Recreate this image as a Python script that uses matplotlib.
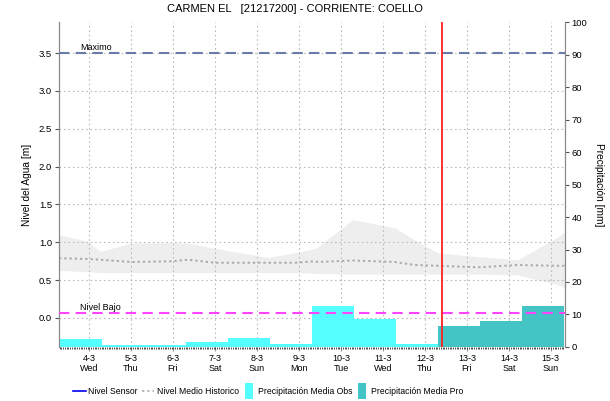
import numpy as np
import matplotlib
matplotlib.use("Agg")
import matplotlib.pyplot as plt
from matplotlib.lines import Line2D
from matplotlib.path import Path

plt.rcParams['font.family'] = ['Liberation Sans', 'DejaVu Sans']

# days: 0 = 4-3 ... 11 = 15-3
day_labels = ["4-3", "5-3", "6-3", "7-3", "8-3", "9-3", "10-3", "11-3", "12-3", "13-3", "14-3", "15-3"]
weekdays = ["Wed", "Thu", "Fri", "Sat", "Sun", "Mon", "Tue", "Wed", "Thu", "Fri", "Sat", "Sun"]

# precipitation (mm) per day, observed then forecast
precip_obs = [2.5, 0.7, 0.5, 1.5, 2.9, 1.0, 12.7, 8.7, 0.9]
precip_pro = [6.6, 8.1, 12.7]

# historic band (m)
hist_x = [-0.714, -0.02, 0.26, 1.02, 2.0, 2.36, 3.0, 3.95, 4.26, 4.90, 5.38, 5.45,
          6.29, 7.29, 7.76, 8.31, 9.26, 10.21, 11.17, 11.33]
hist_upper = [1.10, 1.01, 0.88, 0.99, 0.995, 0.99, 0.92, 0.83, 0.80, 0.86, 0.92, 0.94,
              1.30, 1.19, 1.03, 0.86, 0.81, 0.77, 1.07, 1.14]
hist_lower = [0.63, 0.61, 0.60, 0.60, 0.60, 0.60, 0.60, 0.60, 0.60, 0.60, 0.59, 0.59,
              0.58, 0.58, 0.58, 0.58, 0.58, 0.57, 0.44, 0.40]
hist_mean = [0.79, 0.78, 0.77, 0.74, 0.75, 0.77, 0.73, 0.73, 0.73, 0.73, 0.75, 0.74,
             0.76, 0.74, 0.70, 0.69, 0.67, 0.70, 0.69, 0.69]

nivel_max = 3.5
nivel_bajo = 0.06
now_x = 8.42

fig = plt.figure(figsize=(6.1, 4.01), dpi=100)
ax = fig.add_axes([0.0967, 0.1347, 0.829, 0.8103])
ax2 = ax.twinx()

ax.fill_between(hist_x, hist_lower, hist_upper, color="#EEEEEE", lw=0, zorder=0)
ax.plot(hist_x, hist_mean, color="#AAAAAA", lw=1.4, linestyle=(0, (1.2, 1.5)), zorder=1)

ax.set_xlim(-0.714, 11.33)
ax.set_ylim(-0.383, 3.91)
ax.set_yticks(np.arange(0, 3.6, 0.5))
ax.set_yticklabels([f"{v:.1f}" for v in np.arange(0, 3.6, 0.5)])
ax.set_xticks(range(12))
ax.set_xticklabels([f"{d}\n{w}" for d, w in zip(day_labels, weekdays)])
ax.set_xticks(np.arange(-0.70, 11.33, 1 / 24), minor=True)
ax.grid(True, color="#BBBBBB", linestyle=(0, (1.5, 2.5)), lw=0.8)
ax.set_axisbelow(True)

# bars on right axis
obs_x = np.arange(len(precip_obs)) - 0.69
pro_x = np.arange(len(precip_obs), len(precip_obs) + len(precip_pro)) - 0.69
ax2.bar(obs_x, precip_obs, width=1.0, align="edge", color="#55FFFF", lw=0, zorder=2)
ax2.bar(pro_x, precip_pro, width=1.0, align="edge", color="#44C4C4", lw=0, zorder=2)
ax2.set_ylim(0, 100)
ax2.set_yticks(range(0, 101, 10))

# reference lines (left axis units, drawn above bars)
ax2.plot([-0.714, 11.33], [nivel_max, nivel_max], transform=ax.transData,
         color="#6A7AAA", lw=1.5, linestyle=(0, (5, 3)), zorder=3)
ax2.plot([-0.714, 11.33], [nivel_bajo, nivel_bajo], transform=ax.transData,
         color="#FF44FF", lw=1.5, linestyle=(0, (5, 3)), zorder=3)
ax2.text(-0.21, nivel_max + 0.02, "Maximo", transform=ax.transData, fontsize=6.5, va="bottom", zorder=4)
ax2.text(-0.21, nivel_bajo + 0.02, "Nivel Bajo", transform=ax.transData, fontsize=6.5, va="bottom", zorder=4)
ax2.axvline(now_x, color="#FF2020", lw=1.3, zorder=4)
ax2.set_xlim(-0.714, 11.33)

for a in (ax, ax2):
    a.spines["top"].set_visible(False)
    for s in ("left", "right"):
        a.spines[s].set_color("#888888")
    a.spines["bottom"].set_visible(False)
    a.tick_params(axis="y", labelsize=6.8, length=3, color="#555555", pad=2)
ax.tick_params(axis="x", which="major", labelsize=6.5, length=3, color="#999999", pad=2)
ax.tick_params(axis="x", which="minor", length=1.5, width=0.6, color="#333333")

ax.set_ylabel("Nivel del Agua [m]", fontsize=7.3, labelpad=5)
ax2.set_ylabel("Precipitación [mm]", fontsize=7.3, rotation=270, labelpad=12)
fig.text(0.484, 0.978, "CARMEN EL   [21217200] - CORRIENTE: COELLO", ha="center", va="center", fontsize=8)

tall_rect = Path([(-0.28, -0.5), (0.28, -0.5), (0.28, 0.5), (-0.28, 0.5), (-0.28, -0.5)],
                 [Path.MOVETO, Path.LINETO, Path.LINETO, Path.LINETO, Path.CLOSEPOLY])
handles = [
    Line2D([], [], color="#0000EE", lw=1.2),
    Line2D([], [], color="#BBBBBB", lw=1.4, linestyle=(0, (1.2, 1.5))),
    Line2D([], [], ls="none", marker=tall_rect, markersize=11, markerfacecolor="#55FFFF",
           markeredgewidth=0),
    Line2D([], [], ls="none", marker=tall_rect, markersize=11, markerfacecolor="#44C4C4",
           markeredgewidth=0),
]
labels = ["Nivel Sensor", "Nivel Medio Historico", "Precipitación Media Obs", "Precipitación Media Pro"]
fig.legend(handles, labels, loc="center", bbox_to_anchor=(0.44, 0.023), ncol=4, frameon=False,
           fontsize=6.2, handlelength=1.4, handletextpad=0.3, columnspacing=0.5,
           markerscale=1.0)

fig.savefig("out.png", dpi=100)
